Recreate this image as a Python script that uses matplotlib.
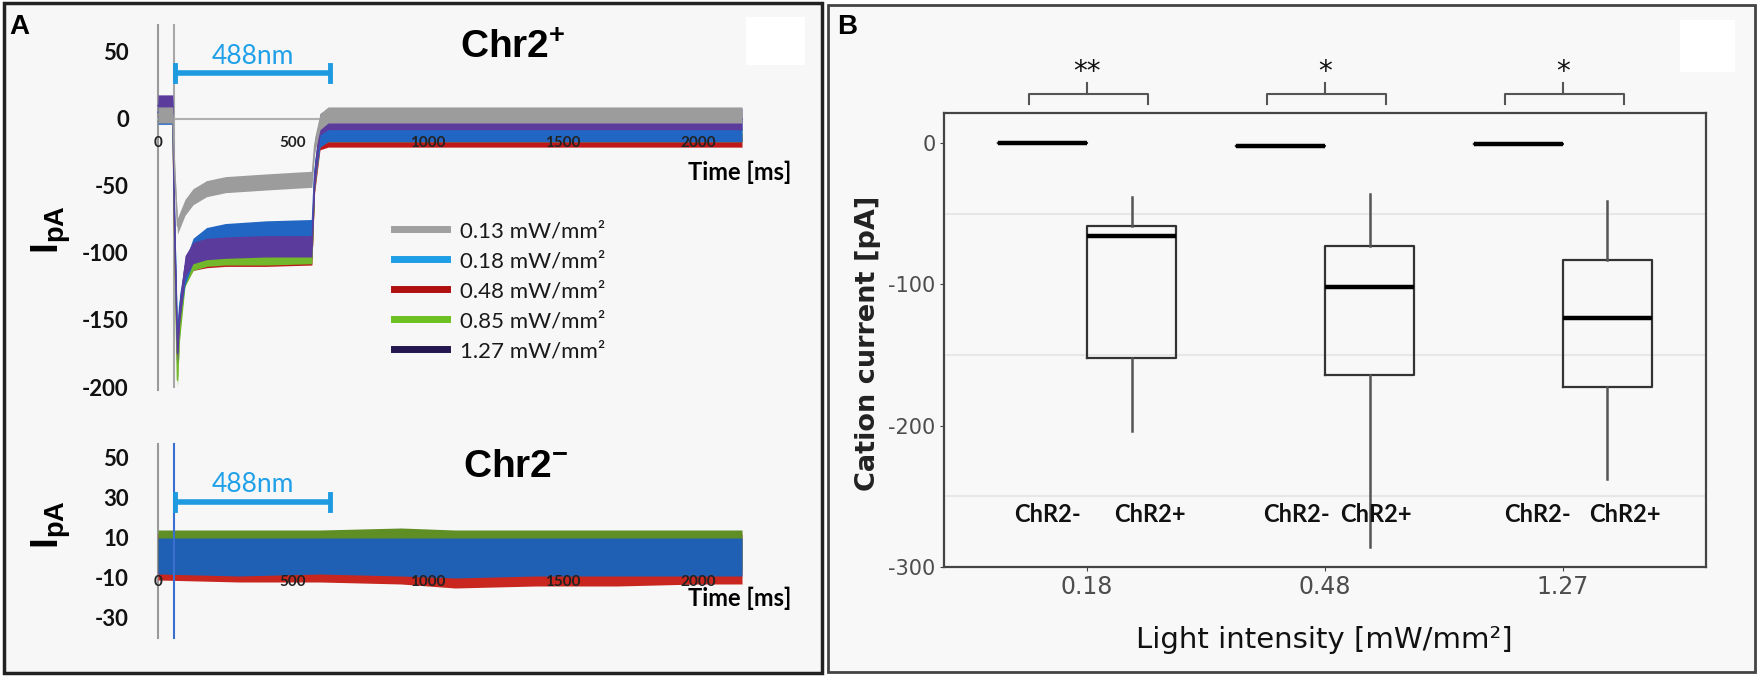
import matplotlib
matplotlib.use('Agg')
import matplotlib.pyplot as plt
from matplotlib.patches import Rectangle
from matplotlib.lines import Line2D
from matplotlib.ticker import FixedLocator

plt.rcParams['mathtext.fontset'] = 'custom'
plt.rcParams['mathtext.rm'] = 'Liberation Sans'
plt.rcParams['mathtext.bf'] = 'Liberation Sans:bold'
plt.rcParams['axes.unicode_minus'] = False

W, H = 1760, 680

# ---------------- panel A, Chr2+ (hand-read envelopes, ms / pA) ----------------
t_pos = [0, 55, 62, 72, 80, 100, 130, 180, 250, 400, 570, 580, 600, 630, 800, 1200, 1600, 2163]
gray_mid = [3, 3, -40, -80, -76, -66, -58, -52, -49, -47, -45, -20, -2, 3, 3, 3, 3, 3]
blue_mid = [5, 5, -80, -165, -140, -115, -98, -90, -87, -85, -84, -40, -12, -8, -8, -8, -8, -8]
red_mid = [3, 3, -90, -180, -150, -118, -108, -106, -105, -105, -104, -50, -18, -16, -16, -16, -16, -16]
green_mid = [3, 3, -95, -195, -160, -120, -108, -105, -104, -104, -103, -48, -15, -12, -12, -12, -12, -12]
purple_mid = [10, 10, -88, -175, -145, -110, -100, -97, -96, -95, -95, -45, -4, 0, 0, 0, 0, 0]
half_width = {'gray': 6, 'blue': 9, 'red': 5, 'green': 5, 'purple': 8}

intensities_A = ['0.13 mW/mm²', '0.18 mW/mm²', '0.48 mW/mm²', '0.85 mW/mm²', '1.27 mW/mm²']
legend_colors = ['#a0a0a0', '#1e9ee6', '#b01010', '#6cc020', '#24164e']

# ---------------- panel A, Chr2- ----------------
t_neg = [0, 300, 600, 900, 1100, 1400, 1700, 2000, 2163]
red_lo = [-11, -12, -12, -13, -15, -14, -14, -13, -13]
red_hi = [12, 12, 13, 12, 12, 12, 12, 12, 12]
green_lo = [-6, -6, -6, -6, -6, -6, -6, -6, -6]
green_hi = [14, 14, 14, 15, 14, 14, 14, 14, 14]
blue_lo = [-8, -9, -8, -9, -10, -9, -9, -9, -9]
blue_hi = [10, 10, 10, 10, 10, 10, 10, 10, 10]

light_on, light_off = 63, 637

# ---------------- panel B ----------------
intensity = ['0.18', '0.48', '1.27']
neg_median = [0, -2.5, -0.6]
pos_whislo = [-204, -286, -238]
pos_q1 = [-152, -164, -173]
pos_med = [-66, -102, -124]
pos_q3 = [-59, -73, -83]
pos_whishi = [-38, -36, -41]
stars = ['**', '*', '*']
label_neg_x = [0.832, 1.882, 2.891]
label_pos_x = [1.265, 2.214, 3.26]


def fx(px):
    return px / W


def fy(py):
    return 1 - py / H


def axes_px(l, t, r, b):
    return fig.add_axes([fx(l), fy(b), (r - l) / W, (b - t) / H])


fig = plt.figure(figsize=(17.6, 6.8), dpi=100, facecolor='white')

# panel backgrounds go on a background axes so the data axes stay on top
bg = fig.add_axes([0, 0, 1, 1], zorder=-10)
bg.set_xlim(0, W)
bg.set_ylim(H, 0)
bg.axis('off')
bg.add_patch(Rectangle((4, 3), 818, 670, facecolor='#f7f7f7', edgecolor='#222222', lw=2.5))
bg.add_patch(Rectangle((828, 5), 927, 667, facecolor='#f8f8f8', edgecolor='#444444', lw=2))
bg.add_patch(Rectangle((746, 17), 59, 48, facecolor='white', edgecolor='none'))
bg.add_patch(Rectangle((1680, 20), 55, 52, facecolor='white', edgecolor='none'))

fig.text(fx(19), fy(27), 'A', fontsize=20, weight='bold', family='Liberation Sans', ha='center', va='center')
fig.text(fx(847), fy(27), 'B', fontsize=20, weight='bold', family='Liberation Sans', ha='center', va='center')


def style_trace_axes(ax, ylim, yticks, ybounds, show_zero):
    ax.set_facecolor('none')
    ax.set_xlim(-140.7, 2433.3)
    ax.set_ylim(*ylim)
    for s in ['top', 'right']:
        ax.spines[s].set_visible(False)
    ax.spines['left'].set_position(('data', 0))
    ax.spines['left'].set_bounds(*ybounds)
    ax.spines['left'].set_color('#9a9a9a')
    ax.spines['left'].set_linewidth(1.5)
    ax.spines['left'].set_zorder(0.5)
    ax.spines['bottom'].set_position(('data', 0))
    ax.spines['bottom'].set_bounds(0, 2163)
    ax.spines['bottom'].set_color('#b0b0b0')
    ax.spines['bottom'].set_linewidth(1.5)
    ax.spines['bottom'].set_zorder(0.5)
    ax.spines['bottom'].set_visible(show_zero)
    ax.set_yticks(yticks)
    ax.set_xticks([0, 500, 1000, 1500, 2000])
    ax.tick_params(axis='y', length=0, pad=21, labelsize=16, labelcolor='#111111')
    ax.tick_params(axis='x', length=0, pad=12, labelsize=11, labelcolor='#222222')
    for lab in ax.get_yticklabels() + ax.get_xticklabels():
        lab.set_family('Lato')
        lab.set_weight('bold')


# ---- top trace plot
ax1 = axes_px(120, 15, 815, 400)
style_trace_axes(ax1, (-209.7, 77.6), [50, 0, -50, -100, -150, -200], (-202, 70), True)
ax1.plot([light_on - 5, light_on - 5], [-200, 70], color='#a8a8a8', lw=1.5, zorder=0.8)

traces = [('red', red_mid, '#c01818'), ('green', green_mid, '#72b82a'),
          ('blue', blue_mid, '#2266c4'), ('purple', purple_mid, '#5b3c9c'),
          ('gray', gray_mid, '#9c9c9c')]
for name, mid, col in traces:
    hw = half_width[name]
    ax1.fill_between(t_pos, [v - hw for v in mid], [v + hw for v in mid],
                     color=col, lw=0, zorder=1)
    ax1.plot(t_pos, mid, color=col, lw=1, zorder=1)

handles = [Line2D([], [], color=c, lw=5) for c in legend_colors]
leg = ax1.legend(handles, intensities_A, loc='upper left', bbox_to_anchor=(fx(383), fy(210)),
                 bbox_transform=fig.transFigure, frameon=False, borderpad=0, handlelength=2.4,
                 handletextpad=0.55, labelspacing=0.45, prop={'family': 'Lato', 'size': 16})
for txt in leg.get_texts():
    txt.set_color('#1a1a1a')

# ---- bottom trace plot
ax2 = axes_px(120, 435, 815, 650)
style_trace_axes(ax2, (-46, 61.5), [50, 30, 10, -10, -30], (-40, 57), False)
ax2.plot([light_on - 5, light_on - 5], [-40, 57], color='#3a6fd0', lw=1.5, zorder=2)
ax2.fill_between(t_neg, red_lo, red_hi, color='#c8261e', lw=0, zorder=1)
ax2.fill_between(t_neg, green_lo, green_hi, color='#5e8e24', lw=0, zorder=1)
ax2.fill_between(t_neg, blue_lo, blue_hi, color='#1f5fb4', lw=0, zorder=1)

# light bars
for ax, ybar, cap in [(ax1, 34.3, 6), (ax2, 28, 4)]:
    ax.plot([light_on, light_off], [ybar, ybar], color='#1e9be0', lw=4, solid_capstyle='butt', zorder=3)
    for xx in (light_on, light_off):
        ax.plot([xx, xx], [ybar - cap, ybar + cap], color='#1e9be0', lw=3.5, zorder=3)

fig.text(fx(253), fy(57), '488nm', color='#20a0e8', fontsize=19, family='Lato', ha='center', va='center')
fig.text(fx(253), fy(485), '488nm', color='#20a0e8', fontsize=19, family='Lato', ha='center', va='center')
fig.text(fx(513), fy(47), r'$\mathbf{Chr2^{+}}$', fontsize=28, ha='center', va='center')
fig.text(fx(516), fy(466), r'$\mathbf{Chr2^{-}}$', fontsize=28, ha='center', va='center')
fig.text(fx(740), fy(172), 'Time [ms]', fontsize=17, weight='bold', family='Lato', ha='center', va='center')
fig.text(fx(740), fy(598), 'Time [ms]', fontsize=17, weight='bold', family='Lato', ha='center', va='center')
fig.text(fx(51), fy(230), r'$\mathbf{I_{pA}}$', fontsize=28, rotation=90, ha='center', va='center')
fig.text(fx(51), fy(525), r'$\mathbf{I_{pA}}$', fontsize=28, rotation=90, ha='center', va='center')

# ---------------- panel B boxplot ----------------
ax3 = axes_px(944, 113, 1706, 567)
ax3.set_facecolor('none')
groups = [1, 2, 3]
stats = []
positions = []
for i, g in enumerate(groups):
    v = neg_median[i]
    stats.append(dict(med=v, q1=v, q3=v, whislo=v, whishi=v))
    positions.append(g - 0.187)
    stats.append(dict(med=pos_med[i], q1=pos_q1[i], q3=pos_q3[i],
                      whislo=pos_whislo[i], whishi=pos_whishi[i]))
    positions.append(g + 0.187)

ax3.bxp(stats, positions=positions, widths=0.374, showfliers=False, showcaps=False,
        boxprops=dict(color='#333333', lw=1.6),
        whiskerprops=dict(color='#555555', lw=1.8),
        medianprops=dict(color='black', lw=3.2))

ax3.set_xlim(0.399, 3.601)
ax3.set_ylim(-300, 21.2)
ax3.set_xticks(groups)
ax3.set_xticklabels(intensity)
ax3.set_yticks([0, -100, -200, -300])
ax3.yaxis.set_minor_locator(FixedLocator([-50, -150, -250]))
ax3.grid(which='minor', axis='y', color='#e6e6e6', lw=1.3)
ax3.tick_params(which='minor', length=0)
ax3.tick_params(which='major', length=3, color='#444444', pad=3, labelcolor='#4d4d4d')
ax3.tick_params(axis='y', labelsize=15)
ax3.tick_params(axis='x', labelsize=17)
for s in ax3.spines.values():
    s.set_color('#444444')
    s.set_linewidth(1.6)

for i, g in enumerate(groups):
    ax3.text(label_neg_x[i], -263, 'ChR2-', fontsize=17, weight='bold', family='Lato',
             ha='center', va='center', color='#111111')
    ax3.text(label_pos_x[i], -263, 'ChR2+', fontsize=17, weight='bold', family='Lato',
             ha='center', va='center', color='#111111')
    ax3.plot([g - 0.245, g - 0.245, g + 0.255, g + 0.255], [27.6, 34.7, 34.7, 27.6],
             color='#555555', lw=1.5, clip_on=False)
    ax3.plot([g, g], [34.7, 42.5], color='#555555', lw=1.5, clip_on=False)
    ax3.text(g, 50, stars[i], fontsize=20, ha='center', va='center', color='#111111')

fig.text(fx(868), fy(343), 'Cation current [pA]', fontsize=19.5, weight='bold', rotation=90,
         ha='center', va='center', color='#222222')
fig.text(fx(1324), fy(640), 'Light intensity [mW/mm²]', fontsize=21, ha='center', va='center',
         color='#111111')

fig.savefig('out.png', dpi=100, facecolor='white')
